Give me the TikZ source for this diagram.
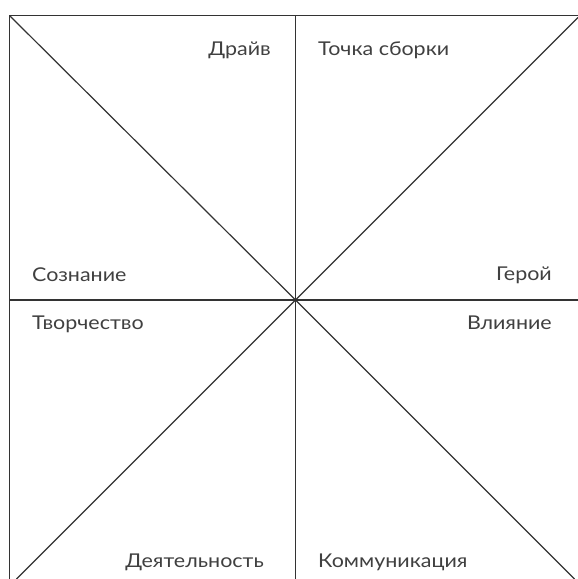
\documentclass[tikz,border=0pt]{standalone}
\usepackage{fontspec}
\setmainfont{Lato}[FakeStretch=1.13]
\definecolor{ink}{HTML}{333333}
\definecolor{txt}{HTML}{404040}
\begin{document}
\begin{tikzpicture}[x=1pt,y=-1pt,
  ln/.style={draw=ink,line width=1.2pt},
  lbl/.style={inner sep=0pt,text=txt,font=\fontsize{19}{19}\selectfont}]
\useasboundingbox (0,0) rectangle (578,579);
\coordinate (tl) at (9.5,15.5);
\coordinate (tr) at (578,15.5);
\coordinate (bl) at (9.5,579);
\coordinate (c) at (295.5,300);
\coordinate (vt) at (295.5,15.5);
\coordinate (vb) at (295.5,579);
\coordinate (hl) at (9.5,300);
\coordinate (hr) at (578,300);
\coordinate (d1) at (574.5,579);
\coordinate (d2a) at (578,17.5);
\coordinate (d2b) at (16.5,579);
\draw[ln] (bl) -- (tl) -- (tr);
\draw[ln] (vt) -- (vb);
\draw[ln] (hl) -- (hr);
\draw[ln] (tl) -- (c) -- (d1);
\draw[ln] (d2a) -- (c) -- (d2b);
\node[lbl,anchor=base east] (drive) at (271,55) {Драйв};
\node[lbl,anchor=base west] (tochka) at (318,55) {Точка сборки};
\node[lbl,anchor=base west] (soz) at (32,281) {Сознание};
\node[lbl,anchor=base east] (geroy) at (552,280) {Герой};
\node[lbl,anchor=base west] (tvor) at (32,329) {Творчество};
\node[lbl,anchor=base east] (vliy) at (552,329) {Влияние};
\node[lbl,anchor=base east] (deyat) at (264,567) {Деятельность};
\node[lbl,anchor=base west] (komm) at (318,567) {Коммуникация};
\end{tikzpicture}
\end{document}
